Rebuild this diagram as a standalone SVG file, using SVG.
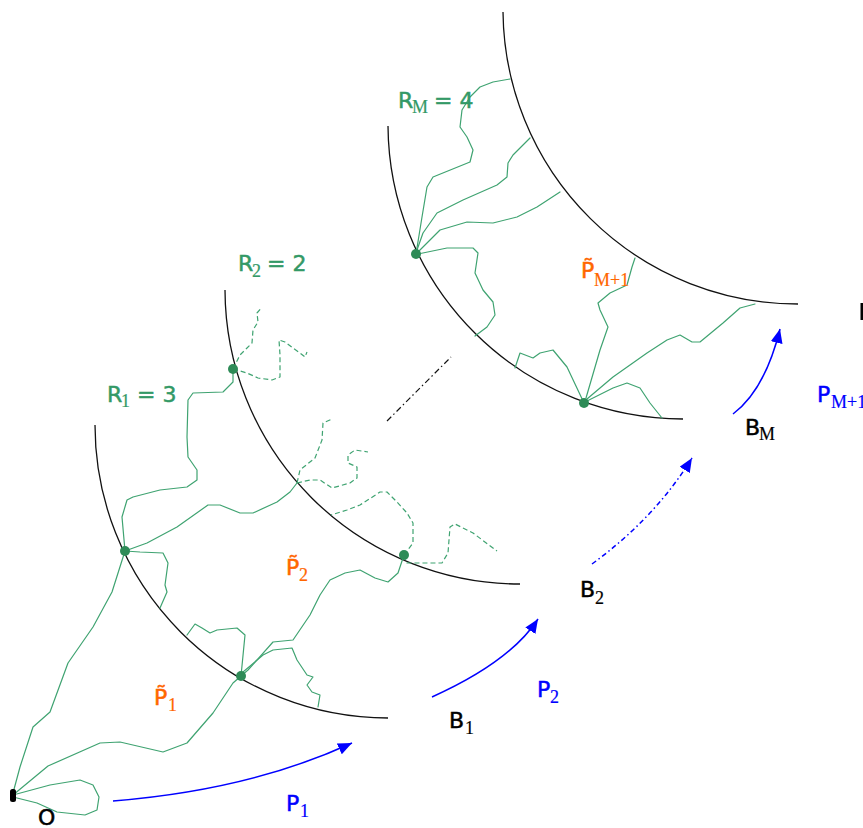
<svg xmlns="http://www.w3.org/2000/svg" width="863" height="828" viewBox="0 0 863 828">
<defs>
<style>
.arc{fill:none;stroke:#111;stroke-width:1.3}
.g{fill:none;stroke:#3fa371;stroke-width:1.2;stroke-linejoin:round;stroke-linecap:round}
.gd{fill:none;stroke:#3fa371;stroke-width:1.2;stroke-dasharray:5 3;stroke-linejoin:round}
.blk{fill:none;stroke:#111;stroke-width:1.2;stroke-dasharray:6 3 1.5 3}
.bl{fill:none;stroke:#0000ff;stroke-width:1.5;marker-end:url(#ah)}
.bld{fill:none;stroke:#0000ff;stroke-width:1.5;stroke-dasharray:5 3 1.5 3;marker-end:url(#ah)}
.dot{fill:#2e8b57}
.m{font-family:"DejaVu Sans",Verdana,sans-serif;font-size:22px;stroke-width:0.5}
.s{font-family:"Liberation Serif","Times New Roman",serif;font-size:18px;stroke-width:0.2}
.gt{fill:#339966;stroke:#339966}
.ot{fill:#ff6600;stroke:#ff6600}
.bt{fill:#0000ff;stroke:#0000ff}
.kt{fill:#000;stroke:#000}
</style>
<marker id="ah" markerWidth="16" markerHeight="12" refX="14" refY="6" orient="auto" markerUnits="userSpaceOnUse">
<path d="M0,0 L14,6 L0,12 Z" fill="#0000ff"/>
</marker>
</defs>
<rect width="863" height="828" fill="#fff"/>

<g id="boundaries">
<path class="arc" d="M95,425 A293,293 0 0 0 388,718"/>
<path class="arc" d="M225,290 A295,295 0 0 0 520,584"/>
<path class="arc" d="M388,126 A295,295 0 0 0 683,419"/>
<path class="arc" d="M503,12 A295,295 0 0 0 798,304"/>
<path class="blk" d="M387,421 L451,357"/>
</g>

<g id="connectors">
<path class="g" d="M13,793 L20,767 L33,727 L50,712 L68,663 L93,627 L112,592 L125,551"/>
<path class="g" d="M13,795 L48,766 L100,743 L120,742 L163,752 L187,743 L213,713 L233,683 L241,676"/>
<path class="g" d="M13,795 L50,785 L80,780 L93,785 L99,797 L97,810 L85,815 L57,812 L37,803 L13,797"/>
<path class="g" d="M241,676 L245,635 L237,628 L217,630 L210,633 L202,628 L195,624 L187,635"/>
<path class="g" d="M241,676 L248,670 L273,642 L293,640 L310,615 L320,595 L330,580 L345,573 L360,570 L375,578 L388,582 L398,573 L404,555"/>
<path class="g" d="M243,672 L263,655 L273,650 L292,648 L297,660 L307,675 L313,677 L307,685 L312,692 L320,695 L318,707"/>
<path class="g" d="M125,551 L140,552 L163,553 L168,563 L165,585 L167,592 L160,608"/>
<path class="g" d="M125,551 L122,517 L127,500 L133,497 L160,490 L187,487 L197,480 L197,470 L188,457 L187,437 L188,400 L193,393 L223,392 L233,382 L233,369"/>
<path class="g" d="M125,551 L147,543 L177,527 L208,505 L220,505 L240,513 L253,513 L277,502 L290,492 L297,483"/>
<path class="gd" d="M297,483 L300,470 L315,458 L322,440 L323,423 L332,419"/>
<path class="gd" d="M297,483 L310,480 L320,480 L332,488 L350,483 L357,478 L357,467 L348,463 L348,455 L355,450 L368,452"/>
<path class="gd" d="M233,369 L240,355 L247,348 L252,343 L253,330 L258,322 L257,313 L262,307"/>
<path class="gd" d="M233,369 L247,373 L258,378 L272,380 L280,377 L280,355 L279,340 L285,342 L293,348 L300,353 L305,357 L307,352"/>
<path class="gd" d="M404,555 L413,543 L413,523 L407,513 L397,502 L387,492 L380,492 L360,505 L347,510 L331,515"/>
<path class="gd" d="M404,555 L407,563 L442,563 L448,553 L450,527 L455,524 L473,533 L497,551"/>
<path class="g" d="M416,254 L422,217 L427,187 L433,177 L470,162 L473,150 L467,137 L460,127 L462,110 L470,97 L480,87 L493,82 L510,79"/>
<path class="g" d="M417,250 L423,233 L437,213 L463,200 L497,185 L507,177 L508,163 L513,155 L530,138"/>
<path class="g" d="M418,252 L440,230 L467,222 L493,223 L517,217 L537,207 L560,192"/>
<path class="g" d="M418,254 L447,248 L473,248 L478,253 L475,273 L483,290 L493,302 L495,315 L487,327 L475,336"/>
<path class="g" d="M584,403 L567,367 L553,350 L540,353 L533,358 L520,353 L515,368"/>
<path class="g" d="M586,398 L600,350 L608,327 L600,310 L598,303 L610,293 L627,285 L632,267 L635,258"/>
<path class="g" d="M587,399 L613,377 L647,353 L667,340 L680,335 L692,342 L700,342 L723,323 L740,308 L755,304"/>
<path class="g" d="M587,401 L613,388 L627,383 L640,388 L650,403 L662,418"/>
<path class="bl" d="M113,801 Q250,790 352,743"/>
<path class="bl" d="M432,697 Q510,662 538,619"/>
<path class="bld" d="M592,564 Q655,518 692,458"/>
<path class="bl" d="M733,414 Q765,390 780,329"/>
</g>

<g id="nodes">
<rect id="node-O" x="10" y="789" width="6" height="13" rx="2.5" fill="#000"/>
<circle id="n1a" class="dot" cx="125" cy="551" r="5"/>
<circle id="n1b" class="dot" cx="241" cy="676" r="5"/>
<circle id="n2a" class="dot" cx="233" cy="369" r="5"/>
<circle id="n2b" class="dot" cx="404" cy="555" r="5"/>
<circle id="nMa" class="dot" cx="416" cy="254" r="5"/>
<circle id="nMb" class="dot" cx="584" cy="403" r="5"/>
<rect id="edge-mark" x="860.5" y="303" width="2.5" height="17" fill="#000"/>
</g>

<g id="labels">
<text class="m gt" x="107" y="402">R<tspan class="s" x="121" y="407">1</tspan><tspan x="137" y="402">= 3</tspan></text>
<text class="m gt" x="238" y="271">R<tspan class="s" x="252" y="277">2</tspan><tspan x="267" y="271">= 2</tspan></text>
<text class="m gt" x="398" y="108">R<tspan class="s" x="412" y="113">M</tspan><tspan x="434" y="108">= 4</tspan></text>
<text class="m ot" x="154" y="705">P&#x303;<tspan class="s" x="168" y="711">1</tspan></text>
<text class="m ot" x="286" y="575">P&#x303;<tspan class="s" x="299" y="581">2</tspan></text>
<text class="m ot" x="581" y="278">P&#x303;<tspan class="s" x="594" y="286">M+1</tspan></text>
<text class="m bt" x="286" y="811">P<tspan class="s" x="300" y="817">1</tspan></text>
<text class="m bt" x="537" y="697">P<tspan class="s" x="550" y="703">2</tspan></text>
<text class="m bt" x="817" y="402">P<tspan class="s" x="831" y="408">M+1</tspan></text>
<text class="m kt" x="449" y="728">B<tspan class="s" x="465" y="734">1</tspan></text>
<text class="m kt" x="580" y="597">B<tspan class="s" x="595" y="604">2</tspan></text>
<text class="m kt" x="745" y="435">B<tspan class="s" x="759" y="440">M</tspan></text>
<text class="m kt" x="38" y="825">O</text>
</g>
</svg>
